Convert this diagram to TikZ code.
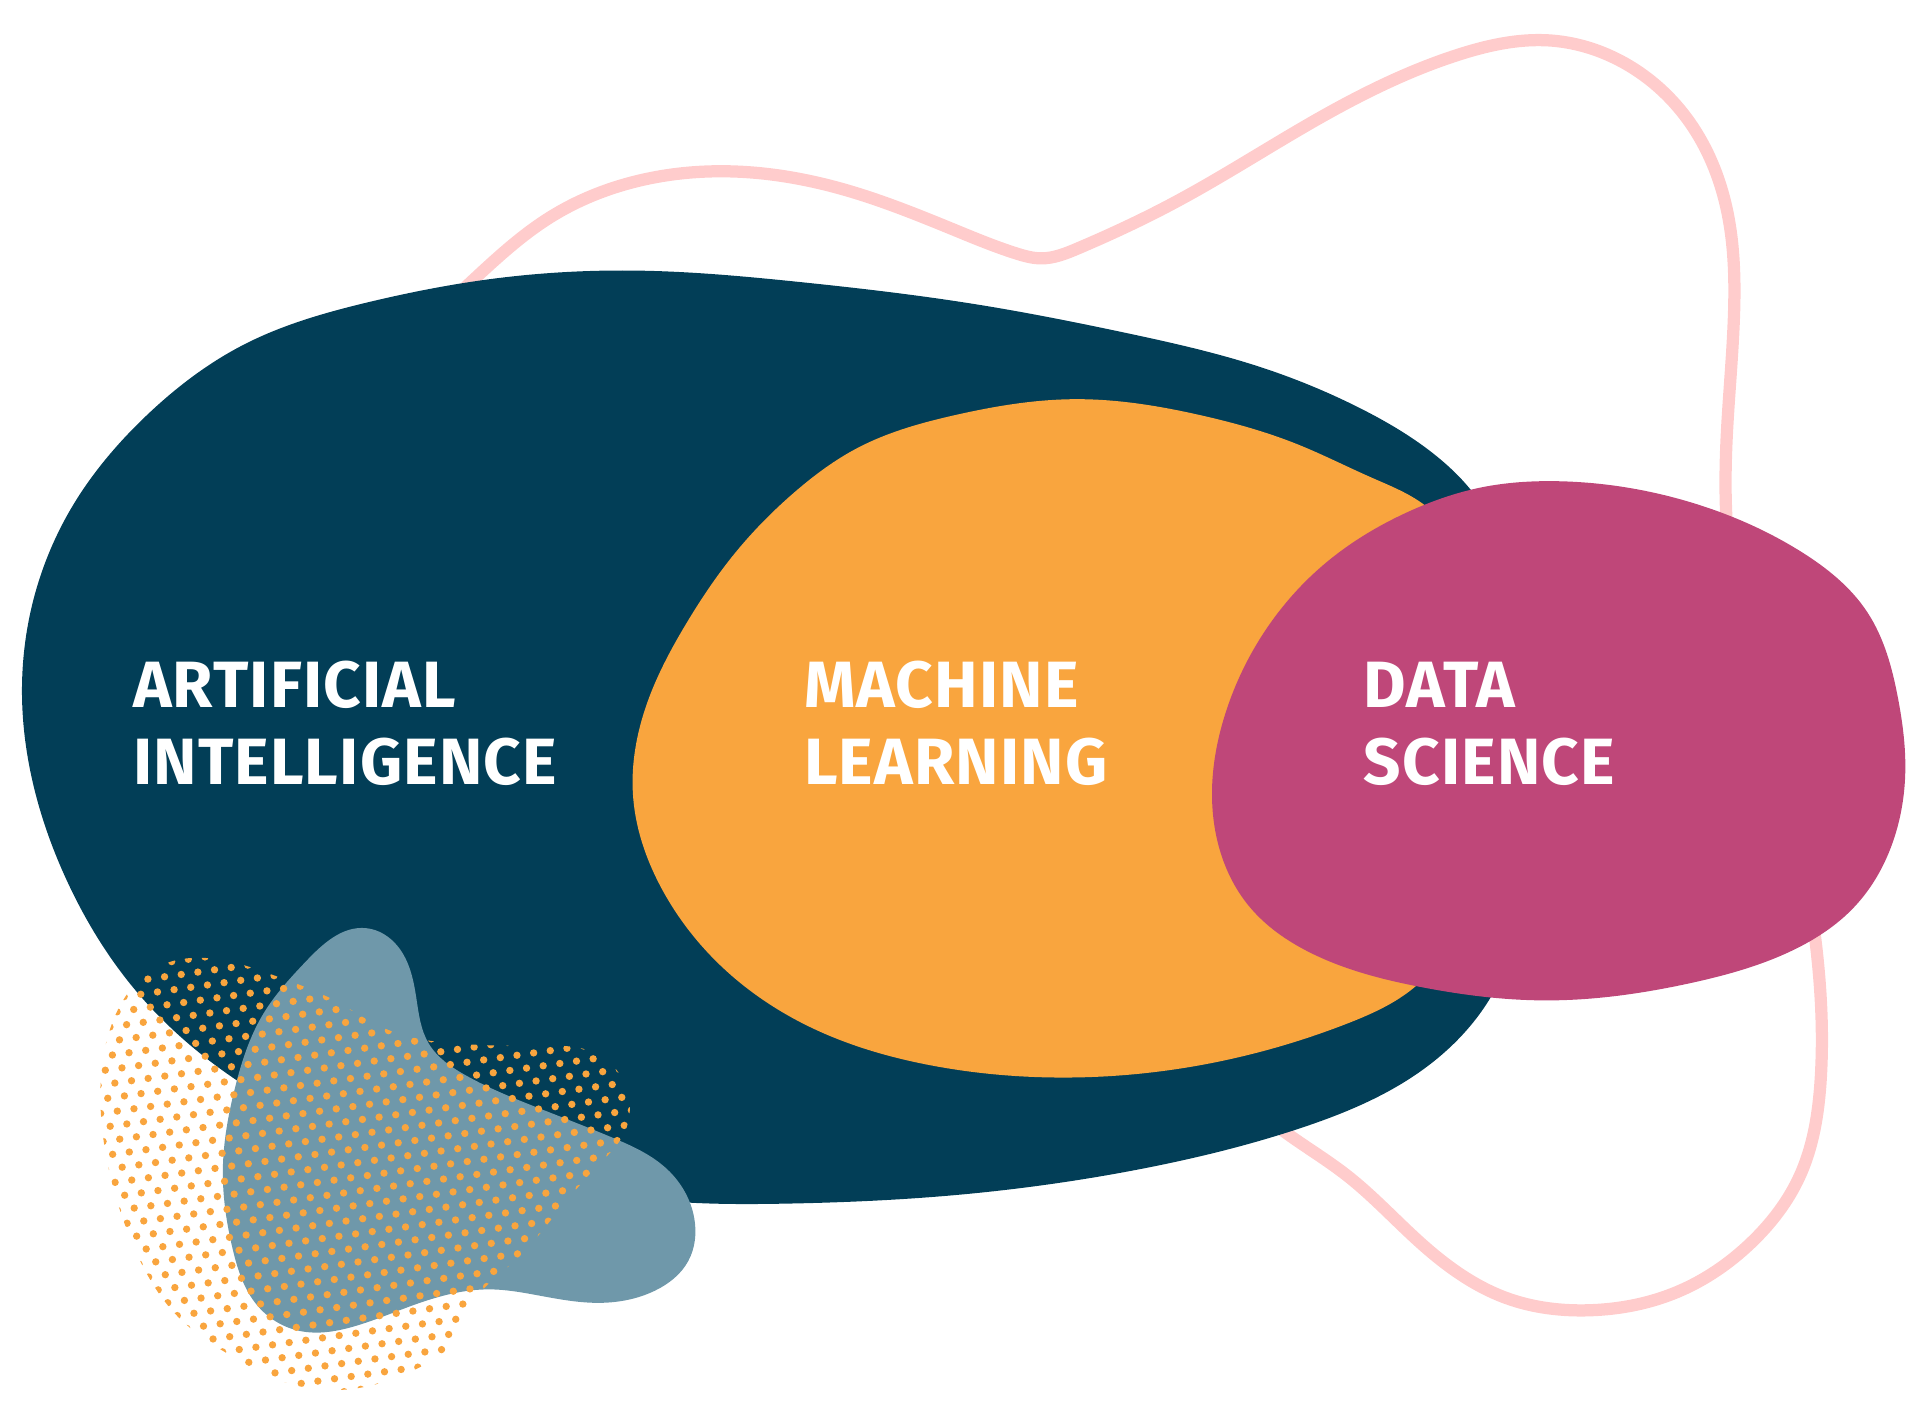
\documentclass[tikz,border=0pt]{standalone}
\usepackage{fontspec}
\usetikzlibrary{hobby}
\newfontfamily\labfont{Fira Sans}[LetterSpace=1.8]
\definecolor{darkc}{RGB}{2,62,87}
\definecolor{orangec}{RGB}{249,165,62}
\definecolor{magc}{RGB}{191,71,121}
\definecolor{greyc}{RGB}{111,152,170}
\definecolor{pinkc}{RGB}{255,204,204}
\begin{document}
\begin{tikzpicture}[x=0.01cm,y=-0.01cm,
  lab/.style={text=white, font=\labfont\bfseries\fontsize{15.2pt}{18pt}\selectfont, inner sep=0pt, anchor=base west},
  outline/.style={draw=pinkc, line width=0.1cm},
  blobby/.style={use Hobby shortcut, closed=true}]
\useasboundingbox (0,0) rectangle (1568,1158);
% pink outline (back)
\draw[outline, blobby] (345,290) .. (385,230) .. (450,177) .. (520,148) .. (598,140) .. (690,155) .. (780,188)
 .. (830,207) .. (850,211) .. (880,203) .. (960,165) .. (1080,95) .. (1190,45) .. (1265,33) .. (1320,48)
 .. (1380,100) .. (1410,170) .. (1416,260) .. (1410,360) .. (1412,450) .. (1460,650) .. (1485,790)
 .. (1487,880) .. (1470,960) .. (1430,1015) .. (1370,1055) .. (1300,1070) .. (1230,1060) .. (1160,1015)
 .. (1100,960) .. (1050,925) .. (900,780) .. (600,560) .. (400,380);
% dark blob
\fill[darkc, blobby] (18,570) .. (30,480) .. (60,412) .. (120,339) .. (200,281) .. (300,247) .. (400,228)
 .. (520,221) .. (650,230) .. (800,249) .. (920,272) .. (1030,300) .. (1110,333) .. (1170,370) .. (1205,405)
 .. (1245,520) .. (1250,680) .. (1220,810) .. (1160,875) .. (1060,922) .. (930,955) .. (780,976) .. (640,983)
 .. (560,982) .. (430,965) .. (300,935) .. (190,880) .. (110,808) .. (55,720) .. (27,640);
% orange blob
\fill[orangec, blobby] (517,650) .. (530,570) .. (560,510) .. (600,452) .. (650,401) .. (700,366) .. (780,339)
 .. (878,326) .. (980,339) .. (1060,363) .. (1120,390) .. (1170,418) .. (1205,520) .. (1205,700) .. (1160,802)
 .. (1100,836) .. (1000,866) .. (865,880) .. (760,870) .. (660,838) .. (590,790) .. (540,725);
% magenta blob
\fill[magc, blobby] (1272,393) .. (1380,410) .. (1470,450) .. (1525,500) .. (1550,570) .. (1556,630)
 .. (1545,690) .. (1515,740) .. (1460,778) .. (1380,803) .. (1262,817) .. (1160,806) .. (1070,778)
 .. (1020,740) .. (995,690) .. (990,640) .. (1000,585) .. (1030,520) .. (1080,462) .. (1150,418) .. (1210,398);
% grey blob
\fill[greyc, blobby] (299,758) .. (325,773) .. (340,815) .. (350,852) .. (380,878) .. (440,905) .. (500,929)
 .. (545,955) .. (567,995) .. (562,1030) .. (535,1054) .. (490,1064) .. (440,1058) .. (400,1053) .. (340,1065)
 .. (290,1083) .. (245,1087) .. (210,1066) .. (190,1020) .. (182,955) .. (192,888) .. (215,828) .. (250,785);
% dotted blob
\begin{scope}
\clip[blobby] (128,790) .. (175,783) .. (225,797) .. (275,818) .. (310,838) .. (340,848) .. (370,852)
 .. (440,854) .. (490,862) .. (512,890) .. (510,925) .. (490,950) .. (455,990) .. (420,1030) .. (388,1062)
 .. (375,1090) .. (340,1118) .. (290,1134) .. (240,1131) .. (190,1108) .. (145,1075) .. (110,1020)
 .. (90,960) .. (82,900) .. (90,840);
\fill[orangec] \foreach \i in {-30,...,30} { \foreach \j in {-19,...,19} {
   ({300+\i*13.6+\j*7.8},{960-\i*1.9+\j*10.5}) circle[radius=0.03cm] } };
\end{scope}
% labels
\node[lab] (ai1) at (108,578) {ARTIFICIAL};
\node[lab] (ai2) at (108,641) {INTELLIGENCE};
\node[lab] (ml1) at (656,578) {MACHINE};
\node[lab] (ml2) at (656,641) {LEARNING};
\node[lab] (ds1) at (1113,578) {DATA};
\node[lab] (ds2) at (1113,641) {SCIENCE};
\end{tikzpicture}
\end{document}
